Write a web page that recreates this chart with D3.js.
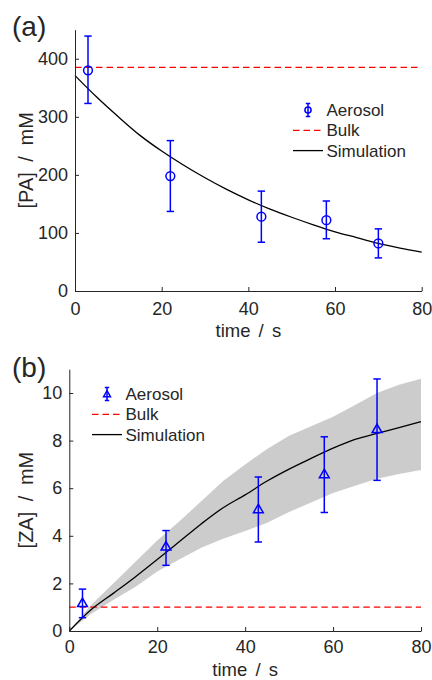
<!DOCTYPE html>
<html>
<head>
<meta charset="utf-8">
<script src="https://cdn.jsdelivr.net/npm/d3@7/dist/d3.min.js"></script>
<style>
  body { margin: 0; background: #fff; }
  text { font-family: "Liberation Sans", Arial, Helvetica, sans-serif; fill: #262626; }
</style>
</head>
<body>
<svg id="chart" width="432" height="680"></svg>
<script>
// ---- data ----
const aeroTime = [3, 22, 43, 58, 70];

// (a) PA
const paMean = [380, 198, 128, 122, 82];
const paLow = [323, 137, 84, 90, 57];
const paHigh = [439, 259, 172, 155, 107];
const paBulk = 385;
const simTime = [0, 5, 10, 15, 20, 25, 30, 35, 40, 45, 50, 55, 60, 65, 70, 75, 80];
const paSim = [371, 334, 300, 268, 241, 217, 195, 175, 157, 141, 127, 114, 102, 92, 82, 74, 67];

// (b) ZA
const zaMean = [1.19, 3.56, 5.13, 6.6, 8.5];
const zaLow = [0.56, 2.76, 3.74, 4.98, 6.33];
const zaHigh = [1.76, 4.22, 6.47, 8.16, 10.59];
const zaBulk = 1.0;
const zaSim = [0, 0.9, 1.58, 2.27, 3.0, 3.75, 4.5, 5.18, 5.72, 6.3, 6.8, 7.25, 7.68, 8.05, 8.3, 8.55, 8.8];
const zaSimLow = [0, 0.72, 1.3, 1.85, 2.5, 3.0, 3.5, 3.88, 4.2, 4.55, 5.0, 5.4, 5.8, 6.1, 6.4, 6.6, 6.76];
const zaSimHigh = [0, 1.1, 2.0, 2.9, 3.8, 4.6, 5.45, 6.3, 7.0, 7.65, 8.2, 8.6, 9.0, 9.5, 10.0, 10.35, 10.6];

const xTicks = [0, 20, 40, 60, 80];
const paTicks = [0, 100, 200, 300, 400];
const zaTicks = [0, 2, 4, 6, 8, 10];
const legendNames = ["Aerosol", "Bulk", "Simulation"];

const BLUE = "#0000ff", RED = "#ff0000", INK = "#262626", BAND = "#cccccc";
const svg = d3.select("#chart");

function drawPanel(o) {
  const x = d3.scaleLinear().domain([0, 80]).range([o.left, o.right]);
  const y = d3.scaleLinear().domain(o.yDomain).range([o.bottom, o.top]);
  const g = svg.append("g");

  // shaded simulation range
  if (o.band) {
    const area = d3.area()
      .x((d, i) => x(simTime[i]))
      .y0((d, i) => y(o.band[0][i]))
      .y1((d, i) => y(o.band[1][i]));
    g.append("path").datum(simTime).attr("d", area).attr("fill", BAND);
  }

  // bulk dashed line
  g.append("line")
    .attr("x1", x(0)).attr("x2", x(80))
    .attr("y1", y(o.bulk)).attr("y2", y(o.bulk))
    .attr("stroke", RED).attr("stroke-width", 1.3).attr("stroke-dasharray", "6.5,4");

  // simulation curve
  const line = d3.line()
    .x((d, i) => x(simTime[i]))
    .y(d => y(d))
    .curve(d3.curveMonotoneX);
  g.append("path").datum(o.sim).attr("d", line)
    .attr("fill", "none").attr("stroke", "#000").attr("stroke-width", 1.3);

  // axes (left + bottom only, ticks inward)
  const xa = g.append("g").attr("transform", `translate(0,${o.bottom})`)
    .call(d3.axisBottom(x).tickValues(xTicks).tickSizeInner(-4).tickSizeOuter(0).tickPadding(o.xPad));
  const ya = g.append("g").attr("transform", `translate(${o.left},0)`)
    .call(d3.axisLeft(y).tickValues(o.yTicks).tickSizeInner(-4).tickSizeOuter(0).tickPadding(7));
  [xa, ya].forEach(a => {
    a.select(".domain").attr("stroke", INK).attr("stroke-width", 1);
    a.selectAll(".tick line").attr("stroke", INK);
    a.selectAll("text").attr("font-size", 18).attr("fill", INK)
      .style("font-family", '"Liberation Sans", Arial, sans-serif');
  });

  // error bars + markers
  const pts = aeroTime.map((t, i) => ({ t, m: o.mean[i], lo: o.low[i], hi: o.high[i] }));
  const eb = g.append("g").attr("stroke", BLUE).attr("stroke-width", 1.5).attr("fill", "none");
  pts.forEach(p => {
    const cx = x(p.t);
    eb.append("line").attr("x1", cx).attr("x2", cx).attr("y1", y(p.lo)).attr("y2", y(p.hi));
    eb.append("line").attr("x1", cx - 3.7).attr("x2", cx + 3.7).attr("y1", y(p.lo)).attr("y2", y(p.lo));
    eb.append("line").attr("x1", cx - 3.7).attr("x2", cx + 3.7).attr("y1", y(p.hi)).attr("y2", y(p.hi));
    drawMarker(eb, o.marker, cx, y(p.m), 1);
  });

  // axis labels
  g.append("text")
    .attr("x", (o.left + o.right) / 2).attr("y", o.bottom + o.xLabDy)
    .attr("text-anchor", "middle").attr("font-size", 18.5).attr("word-spacing", 3)
    .text("time / s");
  g.append("text")
    .attr("transform", `translate(33,${(o.top + o.bottom) / 2}) rotate(-90)`)
    .attr("text-anchor", "middle").attr("font-size", 20).attr("word-spacing", 5)
    .text(o.yLabel);
  g.append("text").attr("x", 12).attr("y", o.top + o.tagDy)
    .attr("font-size", 28).text(o.tag);

  // legend
  const lg = g.append("g");
  legendNames.forEach((name, i) => {
    const cy = o.legY + i * 20.3;
    if (i === 0) {
      const m = lg.append("g").attr("stroke", BLUE).attr("stroke-width", 1.5).attr("fill", "none");
      const mx = o.legX + 15;
      m.append("line").attr("x1", mx).attr("x2", mx).attr("y1", cy - 6.5).attr("y2", cy + 6.5);
      m.append("line").attr("x1", mx - 2.2).attr("x2", mx + 2.2).attr("y1", cy - 6.5).attr("y2", cy - 6.5);
      m.append("line").attr("x1", mx - 2.2).attr("x2", mx + 2.2).attr("y1", cy + 6.5).attr("y2", cy + 6.5);
      drawMarker(m, o.marker, mx, cy, 0.7);
    } else {
      lg.append("line").attr("x1", o.legX).attr("x2", o.legX + 30)
        .attr("y1", cy).attr("y2", cy)
        .attr("stroke", i === 1 ? RED : "#000").attr("stroke-width", 1.3)
        .attr("stroke-dasharray", i === 1 ? "6.5,4" : null);
    }
    lg.append("text").attr("x", o.legX + 33.5).attr("y", cy + 6)
      .attr("font-size", 17).text(name);
  });
}

function drawMarker(sel, type, cx, cy, s) {
  if (type === "circle") {
    sel.append("circle").attr("cx", cx).attr("cy", cy).attr("r", 4.4 * s);
  } else {
    const w = 4.9 * s, h = 8.5 * s;
    sel.append("path")
      .attr("d", `M${cx},${cy - h * 0.55}L${cx + w},${cy + h * 0.45}L${cx - w},${cy + h * 0.45}Z`);
  }
}

drawPanel({
  left: 75, right: 421.7, top: 29.7, bottom: 291,
  yDomain: [0, 450], yTicks: paTicks, yLabel: "[PA] / mM",
  mean: paMean, low: paLow, high: paHigh, bulk: paBulk, sim: paSim,
  marker: "circle", tag: "(a)", tagDy: 6, xLabDy: 46, xPad: 11,
  legX: 293, legY: 110
});

drawPanel({
  left: 69.3, right: 421, top: 369.2, bottom: 631,
  yDomain: [0, 11], yTicks: zaTicks, yLabel: "[ZA] / mM",
  mean: zaMean, low: zaLow, high: zaHigh, bulk: zaBulk, sim: zaSim,
  band: [zaSimLow, zaSimHigh],
  marker: "triangle", tag: "(b)", tagDy: 7.5, xLabDy: 44.5, xPad: 9,
  legX: 92, legY: 394
});
</script>
</body>
</html>
